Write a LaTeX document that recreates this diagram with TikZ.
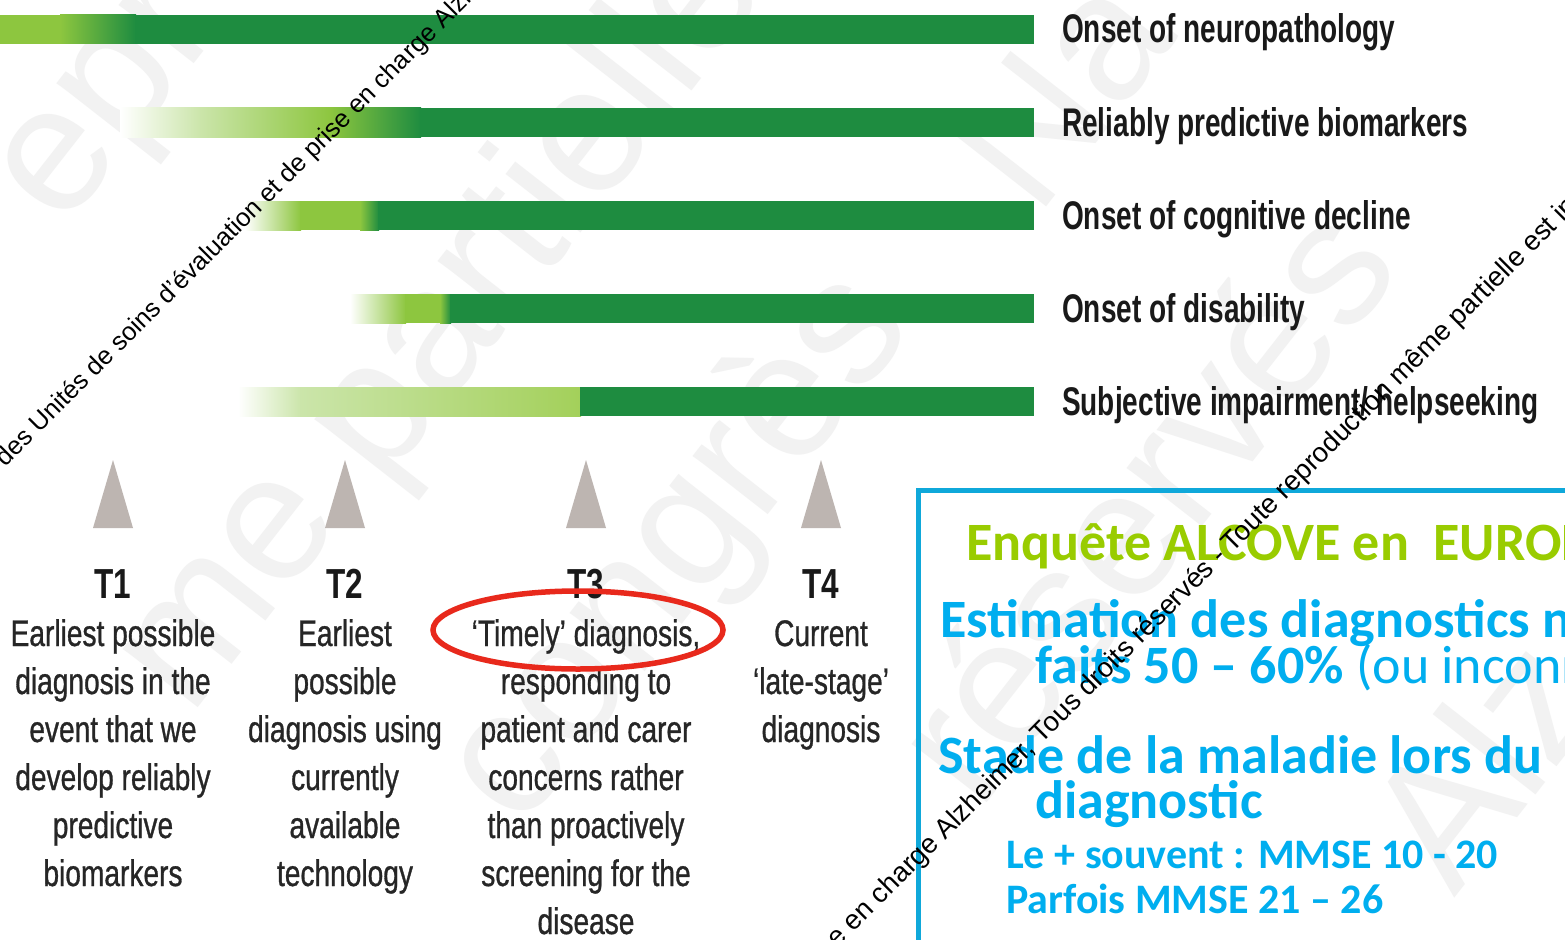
\documentclass[tikz,border=0pt]{standalone}
\usepackage{fontspec}
\setmainfont{Liberation Sans}
\newfontfamily\condf{Liberation Sans}[FakeStretch=0.70]
\newfontfamily\condm{Liberation Sans}[FakeStretch=0.76, FakeBold=0.8]
\newfontfamily\condt{Liberation Sans}[FakeStretch=0.75]
\newfontfamily\calib{Carlito}
\newfontfamily\wmfont{Liberation Sans}
\definecolor{dkgreen}{HTML}{1E8C40}
\definecolor{ltgreen}{HTML}{8DC63F}
\definecolor{palegreen}{HTML}{CBE5AA}
\definecolor{midgreen}{HTML}{A3D05A}
\definecolor{trigray}{HTML}{BDB5B1}
\definecolor{boxcyan}{HTML}{0FA8DA}
\definecolor{txtcyan}{HTML}{00AEEF}
\definecolor{txtgreen}{HTML}{99CC00}
\definecolor{ovalred}{HTML}{E8291C}
\tikzset{
  lbl/.style={anchor=base west, inner sep=0pt, text=black!90, font=\condf\bfseries\fontsize{40}{42}\selectfont},
  tlab/.style={anchor=base, inner sep=0pt, text=black!90, font=\condt\bfseries\fontsize{42}{44}\selectfont},
  coltext/.style={anchor=base, inner sep=0pt, text=black!85, font=\condm\fontsize{37}{40}\selectfont},
  boxbig/.style={anchor=base west, inner sep=0pt, font=\calib\bfseries\fontsize{54}{56}\selectfont},
  boxsmall/.style={anchor=base west, inner sep=0pt, text=txtcyan, font=\calib\bfseries\fontsize{42}{44}\selectfont},
  wm/.style={anchor=base west, inner sep=0pt, rotate=45, text=black, font=\wmfont\fontsize{27.5}{29}\selectfont},
  faint/.style={anchor=center, inner sep=0pt, rotate=52, text=black!5, font=\wmfont\fontsize{180}{180}\selectfont},
  tri/.style={fill=trigray}
}
\begin{document}
\begin{tikzpicture}[x=1pt,y=-1pt]
\useasboundingbox (0,0) rectangle (1565,939);
\clip (0,0) rectangle (1565,939);
\fill[white] (0,0) rectangle (1565,939);

% faint background watermark
\node[faint] (f1) at (120,110) {epr};
\node[faint] (f2) at (230,590) {me};
\node[faint] (f3) at (540,210) {partielle};
\node[faint] (f4) at (680,550) {congrès};
\node[faint] (f5) at (1060,90) {Na};
\node[faint] (f6) at (1140,500) {réservés};
\node[faint] (f7) at (1480,760) {Alz};

% bars
% bar 1
\fill[ltgreen] (0,15) rectangle (61,44);
\shade[left color=ltgreen, right color=dkgreen] (60,15) rectangle (136,44);
\fill[dkgreen] (135,15) rectangle (1034,44);
% bar 2
\shade[left color=white, right color=palegreen] (120,108) rectangle (201,137);
\shade[left color=palegreen, right color=ltgreen] (200,108) rectangle (331,137);
\shade[left color=ltgreen, right color=dkgreen] (330,108) rectangle (421,137);
\fill[dkgreen] (420,108) rectangle (1034,137);
% bar 3
\shade[left color=white, right color=ltgreen] (245,201) rectangle (301,230);
\fill[ltgreen] (300,201) rectangle (361,230);
\shade[left color=ltgreen, right color=dkgreen] (360,201) rectangle (379,230);
\fill[dkgreen] (378,201) rectangle (1034,230);
% bar 4
\shade[left color=white, right color=ltgreen] (350,294) rectangle (406,323);
\fill[ltgreen] (405,294) rectangle (441,323);
\shade[left color=ltgreen, right color=dkgreen] (440,294) rectangle (451,323);
\fill[dkgreen] (450,294) rectangle (1034,323);
% bar 5
\shade[left color=white, right color=palegreen] (238,387) rectangle (301,416);
\shade[left color=palegreen, right color=midgreen] (300,387) rectangle (581,416);
\fill[dkgreen] (580,387) rectangle (1034,416);

% bar labels
\node[lbl] (l1) at (1062,43) {Onset of neuropathology};
\node[lbl] (l2) at (1062,136) {Reliably predictive biomarkers};
\node[lbl] (l3) at (1062,229) {Onset of cognitive decline};
\node[lbl] (l4) at (1062,322) {Onset of disability};
\node[lbl] (l5) at (1062,415) {Subjective impairment/ helpseeking};

% triangles
\foreach \x in {113,345,586,821}{
  \fill[tri] (\x,460) -- ({\x+20},528) -- ({\x-20},528) -- cycle;
}

% T labels
\node[tlab] (t1) at (113,598) {T1};
\node[tlab] (t2) at (345,598) {T2};
\node[tlab] (t3) at (586,598) {T3};
\node[tlab] (t4) at (821,598) {T4};

% column texts
\foreach \t [count=\i] in {Earliest possible, diagnosis in the, event that we, develop reliably, predictive, biomarkers}
  \node[coltext] (a\i) at (113,{646+48*(\i-1)}) {\t};
\foreach \t [count=\i] in {Earliest, possible, diagnosis using, currently, available, technology}
  \node[coltext] (b\i) at (345,{646+48*(\i-1)}) {\t};
\foreach \t [count=\i] in {{‘Timely’ diagnosis,}, responding to, patient and carer, concerns rather, than proactively, screening for the, disease}
  \node[coltext] (c\i) at (586,{646+48*(\i-1)}) {\t};
\foreach \t [count=\i] in {Current, ‘late-stage’, diagnosis}
  \node[coltext] (d\i) at (821,{646+48*(\i-1)}) {\t};

% red oval
\draw[ovalred, line width=5.5pt] (578,630) ellipse [x radius=145, y radius=39];

% cyan box
\draw[boxcyan, line width=5pt] (918,950) -- (918,490) -- (1580,490);

\node[boxbig, text=txtgreen] (enq) at (966,560) {Enquête ALCOVE en\ \ EUROPE};
\node[boxbig, text=txtcyan] (est) at (940,637) {Estimation des diagnostics non};
\node[boxbig, text=txtcyan] (fai) at (1035,683) {faits 50 – 60\% {\mdseries(ou inconnus)}};
\node[boxbig, text=txtcyan] (sta) at (938,773) {Stade de la maladie lors du};
\node[boxbig, text=txtcyan] (dia) at (1035,818) {diagnostic};
\node[boxsmall] (le) at (1006,868) {Le + souvent : MMSE 10 - 20};
\node[boxsmall] (par) at (1006,913) {Parfois MMSE 21 – 26};

% diagonal watermark text
\node[wm, font=\wmfont\fontsize{25.5}{27}\selectfont] (w1) at (5,468) {des Unités de soins d’évaluation et de prise en charge Alzheimer};
\node[wm] (w2) at (806,980) {prise en charge Alzheimer, Tous droits réservés - Toute reproduction même partielle est interdite};
\end{tikzpicture}
\end{document}
